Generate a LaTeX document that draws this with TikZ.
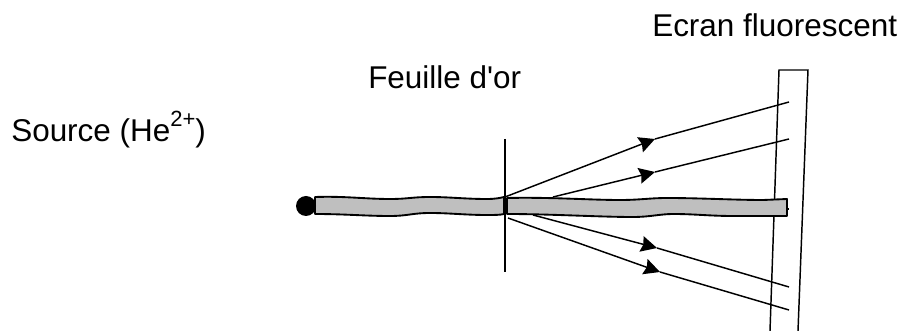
\documentclass[tikz,border=0pt]{standalone}
\usepackage{fontspec}
\newfontfamily\labelfont{Liberation Sans}
\usetikzlibrary{arrows.meta}
\definecolor{beamgray}{HTML}{BFBFBF}
\tikzset{
  label/.style={inner sep=0pt,anchor=base west,font=\labelfont\fontsize{23.6}{28}\selectfont},
  beam/.style={draw=black,fill=beamgray,line width=1.4pt,line join=round},
  tiny/.style={line width=1.1pt},
  ray/.style={tiny,-{Stealth[length=12pt,width=12pt,inset=1.5pt]}}
}
\newcommand{\supr}[1]{\raisebox{11.5pt}{\fontsize{16.5}{18}\selectfont #1}}
\begin{document}
\begin{tikzpicture}[x=0.75pt,y=-0.75pt]
  \useasboundingbox (0,0) rectangle (901,331);
  \node[label] (ecran) at (652,37) {Ecran fluorescent};
  \node[label] (feuille) at (368,89) {Feuille d'or};
  \node[label] (source) at (11,142) {Source (He\supr{2+})};
  % ecran
  \draw[tiny] (770,331) -- (779,70) -- (808,70) -- (798,331);
  % feuille
  \coordinate (foiltop) at (505,139);
  \coordinate (foilbot) at (505,272);
  \draw[tiny] (foiltop) -- (foilbot);
  % rayons
  \coordinate (start1) at (505,197);
  \coordinate (tip1) at (655,139);
  \coordinate (end1) at (789,102);
  \coordinate (start2) at (553,197);
  \coordinate (tip2) at (655,172);
  \coordinate (end2) at (789,139);
  \coordinate (start3) at (533,215);
  \coordinate (tip3) at (657,248);
  \coordinate (end3) at (789,287);
  \coordinate (start4) at (508,218);
  \coordinate (tip4) at (660,272);
  \coordinate (end4) at (789,310);
  \foreach \i in {1,2,3,4} {
    \draw[ray] (start\i) -- (tip\i);
    \draw[tiny] (tip\i) -- (end\i);
  }
  \coordinate (beamend) at (787,209);
  \coordinate (rayend) at (789,209);
  \draw[tiny] (beamend) -- (rayend);
  % faisceau
  \draw[beam] (315,197) .. controls (345,196) and (365,199) .. (390,199)
    .. controls (408,199) and (412,197) .. (430,197)
    .. controls (450,197) and (465,199) .. (487,199)
    .. controls (495,199) and (500,198) .. (504,197)
    -- (504,214)
    .. controls (500,215) and (495,215) .. (487,215)
    .. controls (465,215) and (450,213) .. (430,213)
    .. controls (412,213) and (408,216) .. (390,216)
    .. controls (365,216) and (345,214) .. (315,214) -- cycle;
  \draw[beam] (507,198) .. controls (550,197) and (590,200) .. (620,200)
    .. controls (640,200) and (650,198) .. (667,198)
    .. controls (700,198) and (735,200) .. (763,200)
    -- (787,199) -- (787,216)
    .. controls (765,216) and (755,216) .. (733,216)
    .. controls (710,216) and (695,214) .. (673,214)
    .. controls (660,214) and (650,217) .. (633,217)
    .. controls (600,217) and (550,214) .. (507,214) -- cycle;
  \node[circle,fill=black,inner sep=0pt,minimum size=15pt] (dot) at (306,206) {};
\end{tikzpicture}
\end{document}
